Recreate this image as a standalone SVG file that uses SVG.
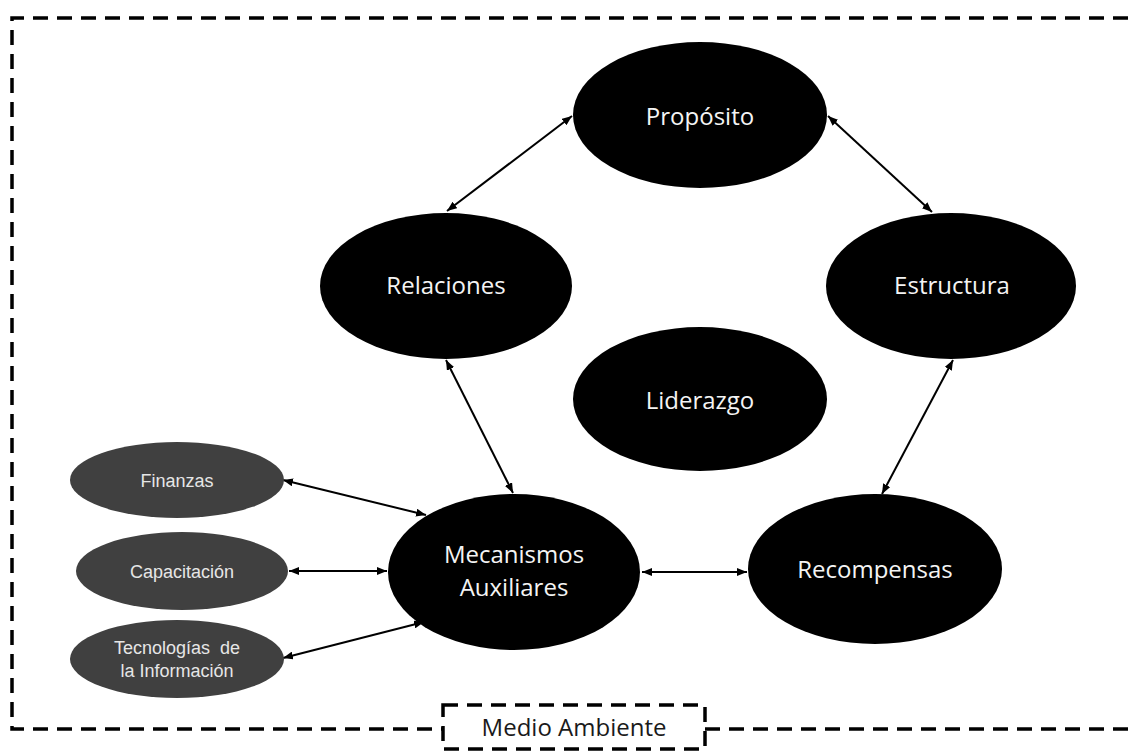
<svg xmlns="http://www.w3.org/2000/svg" width="1128" height="751" viewBox="0 0 1128 751">
<style>
.main{fill:#000}
.sub{fill:#404040}
.lbl{font-family:"Open Sans","Noto Sans",sans-serif;font-size:24px;fill:#f4f4f4;text-anchor:middle}
.slbl{font-family:"Liberation Sans",Arial,sans-serif;font-size:18px;fill:#e6e6e6;text-anchor:middle}
.border{fill:none;stroke:#000;stroke-width:3.5;stroke-dasharray:15 9}
.box{fill:#fff;stroke:#000;stroke-width:3.5;stroke-dasharray:15 9}
.conn{stroke:#000;stroke-width:2;fill:none;marker-start:url(#ah);marker-end:url(#ah)}
</style>
<defs>
<marker id="ah" viewBox="0 0 10 8" refX="10" refY="4" markerWidth="10" markerHeight="8" markerUnits="userSpaceOnUse" orient="auto-start-reverse">
<path d="M0,0 L10,4 L0,8 Z" fill="#000"/>
</marker>
</defs>
<rect width="1128" height="751" fill="#fff"/>
<g id="border">
<path class="border" d="M1128,18 H12 V729 H1128"/>
</g>
<g id="connectors">
<line class="conn" x1="572" y1="116" x2="447" y2="211"/>
<line class="conn" x1="828" y1="116" x2="932" y2="212"/>
<line class="conn" x1="446" y1="360" x2="513" y2="493"/>
<line class="conn" x1="953" y1="360" x2="882" y2="494"/>
<line class="conn" x1="642" y1="572" x2="747" y2="572"/>
<line class="conn" x1="283" y1="480" x2="426" y2="515"/>
<line class="conn" x1="289" y1="571" x2="387" y2="571"/>
<line class="conn" x1="283" y1="658" x2="424" y2="622"/>
</g>
<g id="proposito">
<ellipse class="main" cx="700" cy="115" rx="127" ry="73"/>
<text class="lbl" x="700" y="125">Propósito</text>
</g>
<g id="relaciones">
<ellipse class="main" cx="446" cy="286" rx="126" ry="73"/>
<text class="lbl" x="446" y="294">Relaciones</text>
</g>
<g id="estructura">
<ellipse class="main" cx="951" cy="286" rx="125" ry="73"/>
<text class="lbl" x="952" y="294">Estructura</text>
</g>
<g id="liderazgo">
<ellipse class="main" cx="700" cy="399" rx="127" ry="72"/>
<text class="lbl" x="700" y="409">Liderazgo</text>
</g>
<g id="mecanismos">
<ellipse class="main" cx="514" cy="572" rx="126" ry="78"/>
<text class="lbl" x="514" y="563">Mecanismos</text>
<text class="lbl" x="514" y="596">Auxiliares</text>
</g>
<g id="recompensas">
<ellipse class="main" cx="875" cy="569" rx="127" ry="75"/>
<text class="lbl" x="875" y="578">Recompensas</text>
</g>
<g id="finanzas">
<ellipse class="sub" cx="177" cy="480" rx="107" ry="38"/>
<text class="slbl" x="177" y="487">Finanzas</text>
</g>
<g id="capacitacion">
<ellipse class="sub" cx="182" cy="571" rx="106" ry="39"/>
<text class="slbl" x="182" y="578">Capacitación</text>
</g>
<g id="tecnologias">
<ellipse class="sub" cx="177" cy="659" rx="107" ry="39"/>
<text class="slbl" x="177" y="654" xml:space="preserve">Tecnologías  de</text>
<text class="slbl" x="177" y="677">la Información</text>
</g>
<g id="medio-ambiente">
<rect class="box" x="443" y="705" width="262" height="44"/>
<text class="lbl" x="574" y="736" style="fill:#1a1a1a">Medio Ambiente</text>
</g>
</svg>
